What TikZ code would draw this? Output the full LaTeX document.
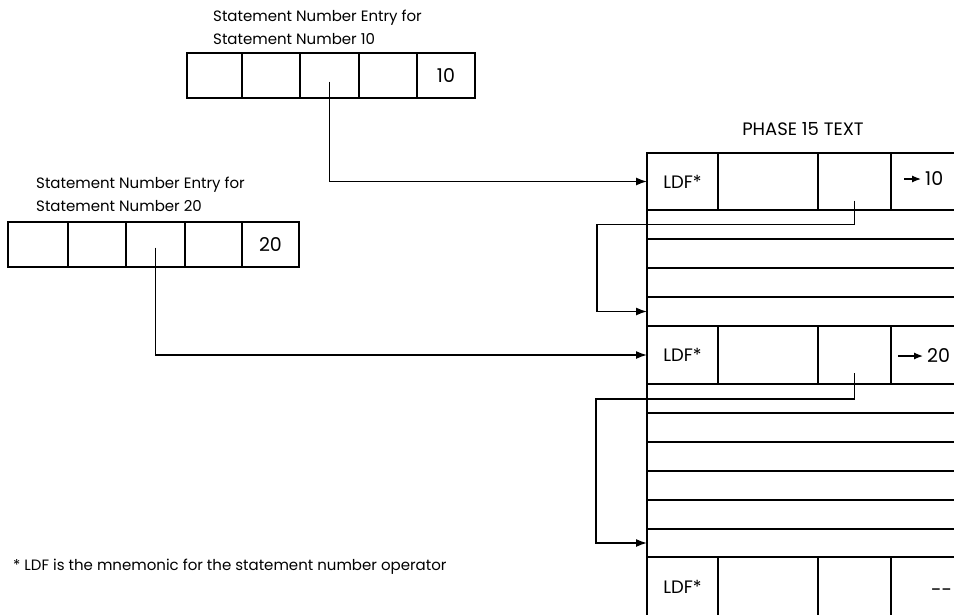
\documentclass[tikz,border=0pt]{standalone}
\usepackage{fontspec}
\setmainfont{Poppins}
\usetikzlibrary{arrows.meta,positioning}

\tikzset{
  cell/.style={draw, line width=1.4pt, anchor=north west, inner sep=0pt, outer sep=0pt,
    minimum height=45pt, font=\fontsize{18}{20}\selectfont},
  strip/.style={draw, line width=1.4pt, anchor=north west, inner sep=0pt, outer sep=0pt,
    minimum width=330pt, minimum height=29pt},
  ptr/.style={line width=1.4pt, -{Latex[length=11pt,width=8pt]}},
  lbl/.style={font=\fontsize{15}{23}\selectfont, align=left, inner sep=0pt},
  num/.style={font=\fontsize{19}{21}\selectfont, anchor=west, inner sep=0pt}
}

\begin{document}
\begin{tikzpicture}[x=1pt,y=-1pt]
\useasboundingbox (0,0) rectangle (954,614);
\clip (0,0) rectangle (954,614);

% entry for statement number 10
\node[lbl, anchor=north west] (lab10) at (213,10) {Statement Number Entry for\\Statement Number 10};
\node[cell, minimum width=55pt] (a1) at (187,53) {};
\node[cell, minimum width=58pt, right=0pt of a1] (a2) {};
\node[cell, minimum width=59pt, right=0pt of a2] (a3) {};
\node[cell, minimum width=58pt, right=0pt of a3] (a4) {};
\node[cell, minimum width=58pt, right=0pt of a4, font=\fontsize{19}{21}\selectfont] (a5) {10};

% entry for statement number 20
\node[lbl, anchor=north west] (lab20) at (36,177) {Statement Number Entry for\\Statement Number 20};
\node[cell, minimum width=60pt] (b1) at (8,222) {};
\node[cell, minimum width=58pt, right=0pt of b1] (b2) {};
\node[cell, minimum width=59pt, right=0pt of b2] (b3) {};
\node[cell, minimum width=57pt, right=0pt of b3] (b4) {};
\node[cell, minimum width=57pt, right=0pt of b4, font=\fontsize{19}{21}\selectfont] (b5) {20};

% phase 15 text
\node[lbl, font=\fontsize{18}{20}\selectfont] (ttl) at (803,129) {PHASE 15 TEXT};
\node[cell, minimum width=71pt, minimum height=57pt] (r1a) at (647,153) {LDF*};
\node[cell, minimum width=100pt, minimum height=57pt, right=0pt of r1a] (r1b) {};
\node[cell, minimum width=73pt, minimum height=57pt, right=0pt of r1b] (r1c) {};
\node[cell, minimum width=90pt, minimum height=57pt, right=0pt of r1c] (r1d) {};
\node[strip] (s1) at (r1a.south west) {};
\node[strip, below=0pt of s1] (s2) {};
\node[strip, below=0pt of s2] (s3) {};
\node[strip, below=0pt of s3] (s4) {};

\node[cell, minimum width=71pt, minimum height=58pt] (r2a) at (s4.south west) {LDF*};
\node[cell, minimum width=100pt, minimum height=58pt, right=0pt of r2a] (r2b) {};
\node[cell, minimum width=73pt, minimum height=58pt, right=0pt of r2b] (r2c) {};
\node[cell, minimum width=90pt, minimum height=58pt, right=0pt of r2c] (r2d) {};
\node[strip] (t1) at (r2a.south west) {};
\node[strip, below=0pt of t1] (t2) {};
\node[strip, below=0pt of t2] (t3) {};
\node[strip, below=0pt of t3] (t4) {};
\node[strip, below=0pt of t4] (t5) {};
\node[strip, minimum height=28pt, below=0pt of t5] (t6) {};

\node[cell, minimum width=71pt, minimum height=60pt] (r3a) at (t6.south west) {LDF*};
\node[cell, minimum width=100pt, minimum height=60pt, right=0pt of r3a] (r3b) {};
\node[cell, minimum width=73pt, minimum height=60pt, right=0pt of r3b] (r3c) {};
\node[cell, minimum width=90pt, minimum height=60pt, right=0pt of r3c] (r3d) {};

% values in the last column
\node[num] (n10) at (925,179) {10};
\node[num] (n20) at (927,356) {20};
\node[num] (n30) at (931,593) {-{}-};
\coordinate (m10) at ([xshift=-21pt]n10.west);
\coordinate (m20) at ([xshift=-29pt]n20.west);
\draw[line width=1.2pt, -{Latex[length=9pt,width=7pt]}] (m10) -- ([xshift=-4pt]n10.west);
\draw[line width=1.2pt, -{Latex[length=9pt,width=7pt]}] (m20) -- ([xshift=-4pt]n20.west);

% pointers
\coordinate (p10) at ([yshift=-6pt]a3.center);
\coordinate (p20) at ([yshift=-3pt]b3.center);
\coordinate (q1) at ([yshift=-19pt]r1c.center);
\coordinate (q2) at ([yshift=-18pt]r2c.center);
\draw[ptr] (p10) |- (r1a.west);
\draw[ptr] (p20) |- (r2a.west);
\draw[ptr] (q1) -- ++(0,24) -| ([xshift=-50pt]s4.west) -- (s4.west);
\draw[ptr] (q2) -- ++(0,26) -| ([xshift=-51pt]t6.west) -- (t6.west);

% footnote
\node[lbl, anchor=west] (fn) at (13,567) {* LDF is the mnemonic for the statement number operator};
\end{tikzpicture}
\end{document}
